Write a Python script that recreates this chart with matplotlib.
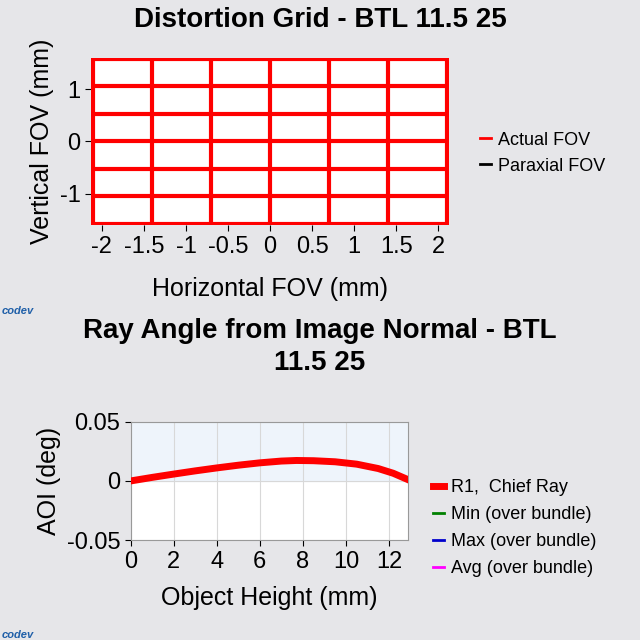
import numpy as np
import matplotlib; matplotlib.use("Agg")
import matplotlib.pyplot as plt

# top: distortion grid
grid_x = [-2.1, -1.4, -0.7, 0.0, 0.7, 1.4, 2.1]
grid_y = [-1.575, -1.05, -0.525, 0.0, 0.525, 1.05, 1.575]
xticks_top = [-2, -1.5, -1, -0.5, 0, 0.5, 1, 1.5, 2]
xlabels_top = ["-2", "-1.5", "-1", "-0.5", "0", "0.5", "1", "1.5", "2"]
yticks_top = [-1, 0, 1]
ylabels_top = ["-1", "0", "1"]

# bottom: ray angle
obj_h = [0, 1, 2, 3, 4, 5, 6, 7, 7.7, 8.5, 9.5, 10.5, 11.5, 12.2, 12.9]
aoi = [0, 0.003, 0.0058, 0.0085, 0.011, 0.0133, 0.0153, 0.0168, 0.0173, 0.0171,
       0.0162, 0.0142, 0.0105, 0.0065, 0.001]

BG = "#e6e6e9"
plt.rcParams["font.family"] = "Liberation Sans"
fig = plt.figure(figsize=(6.4, 6.4), dpi=100, facecolor=BG)

ax = fig.add_axes([0.142, 0.648, 0.56, 0.262])
ax.set_facecolor("white")
for gx in grid_x:
    ax.plot([gx, gx], [grid_y[0], grid_y[-1]], color="black", lw=1)
    ax.plot([gx, gx], [grid_y[0], grid_y[-1]], color="red", lw=3)
for gy in grid_y:
    ax.plot([grid_x[0], grid_x[-1]], [gy, gy], color="red", lw=3)
ax.set_xlim(-2.13, 2.13); ax.set_ylim(-1.6, 1.6)
ax.set_xticks(xticks_top); ax.set_xticklabels(xlabels_top)
ax.set_yticks(yticks_top); ax.set_yticklabels(ylabels_top)
ax.tick_params(labelsize=17, length=4)
for s in ax.spines.values(): s.set_visible(False)
ax.set_xlabel("Horizontal FOV (mm)", fontsize=18, labelpad=14)
ax.set_ylabel("Vertical FOV (mm)", fontsize=18)
fig.text(0.5, 0.968, "Distortion Grid - BTL 11.5 25", fontsize=20, fontweight="bold",
         ha="center", va="center")
ax.plot([], [], color="red", lw=2, label="Actual FOV")
ax.plot([], [], color="black", lw=2, label="Paraxial FOV")
ax.legend(loc="center left", bbox_to_anchor=(1.04, 0.43), frameon=False,
          fontsize=13, handlelength=0.6, handletextpad=0.4)

ax2 = fig.add_axes([0.204, 0.156, 0.434, 0.185])
ax2.set_facecolor("white")
ax2.axhspan(0, 0.05, color="#eef4fb", zorder=0)
ax2.grid(True, color="#d8d8d8", lw=0.8)
ax2.plot(obj_h, aoi, color="red", lw=5, label="R1,  Chief Ray", zorder=3)
ax2.set_xlim(0, 12.9); ax2.set_ylim(-0.05, 0.05)
ax2.set_xticks([0, 2, 4, 6, 8, 10, 12]); ax2.set_yticks([-0.05, 0, 0.05])
ax2.set_yticklabels(["-0.05", "0", "0.05"])
ax2.tick_params(labelsize=17, length=4)
for s in ax2.spines.values(): s.set_color("#999999")
ax2.set_xlabel("Object Height (mm)", fontsize=18, labelpad=10)
ax2.set_ylabel("AOI (deg)", fontsize=18)
fig.text(0.5, 0.458, "Ray Angle from Image Normal - BTL\n11.5 25", fontsize=20,
         fontweight="bold", ha="center", va="center", linespacing=1.3)
ax2.plot([], [], color="green", lw=2, label="Min (over bundle)")
ax2.plot([], [], color="#0000cc", lw=2, label="Max (over bundle)")
ax2.plot([], [], color="magenta", lw=2, label="Avg (over bundle)")
ax2.legend(loc="center left", bbox_to_anchor=(1.03, 0.1), frameon=False,
           fontsize=13, handlelength=0.6, handletextpad=0.4, labelspacing=0.55)

fig.text(0.003, 0.51, "codev", color="#1f5fa8", fontsize=8, fontweight="bold", style="italic")
fig.text(0.003, 0.003, "codev", color="#1f5fa8", fontsize=8, fontweight="bold", style="italic")
fig.savefig("out.png", facecolor=BG)
